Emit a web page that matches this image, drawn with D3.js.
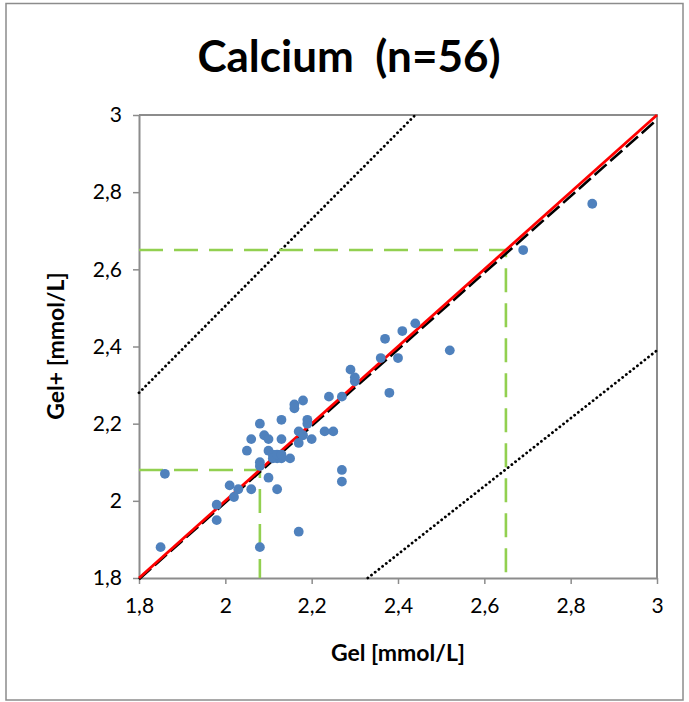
<!DOCTYPE html>
<html>
<head>
<meta charset="utf-8">
<script src="https://cdn.jsdelivr.net/npm/d3@7"></script>
<style>
  html, body { margin: 0; padding: 0; background: #fff; }
  svg { display: block; }
  text { font-family: Lato, "Open Sans", sans-serif; fill: #000; }
</style>
</head>
<body>
<svg id="chart" width="689" height="702"></svg>
<script>
// Measurements: Gel (x) vs Gel+ (y), calcium in mmol/L
const gel = [
  2.30, 2.24, 2.27, 2.16, 2.16, 2.18, 2.08, 2.13, 2.19, 2.19,
  2.06, 2.09, 2.10, 2.13, 2.17, 2.18, 2.20, 2.17, 2.23, 2.25,
  2.05, 2.10, 2.11, 2.12, 2.13, 2.15, 2.11, 2.08, 2.08, 1.86,
  2.10, 2.27, 2.27, 2.01, 2.03, 2.02, 2.06, 2.12, 1.98, 1.98,
  2.17, 1.85, 2.08, 2.85, 2.69, 2.37, 2.41, 2.44, 2.36, 2.40,
  2.52, 2.38, 2.29, 2.30, 2.12, 2.13
];
const gelPlus = [
  2.31, 2.27, 2.27, 2.25, 2.24, 2.26, 2.20, 2.21, 2.21, 2.20,
  2.16, 2.17, 2.16, 2.16, 2.18, 2.17, 2.16, 2.15, 2.18, 2.18,
  2.13, 2.13, 2.12, 2.11, 2.11, 2.11, 2.11, 2.10, 2.09, 2.07,
  2.06, 2.08, 2.05, 2.04, 2.03, 2.01, 2.03, 2.03, 1.99, 1.95,
  1.92, 1.88, 1.88, 2.77, 2.65, 2.42, 2.44, 2.46, 2.37, 2.37,
  2.39, 2.28, 2.34, 2.32, 2.12, 2.12
];

// Reference lines (endpoints in data units)
const identityLine   = [[1.8, 1.8], [3.0, 3.0]];
const regressionLine = [[1.8, 1.797], [3.0, 2.988]];
const upperLimitLine = [[1.8, 2.28], [2.44, 3.0]];
const lowerLimitLine = [[2.33, 1.8], [3.0, 2.39]];
const refLow = 2.08;
const refHigh = 2.65;

const xDomain = [1.8, 3.0];
const yDomain = [1.8, 3.0];
const tickValues = [1.8, 2.0, 2.2, 2.4, 2.6, 2.8, 3.0];

const titleText = "Calcium  (n=56)";
const xTitle = "Gel [mmol/L]";
const yTitle = "Gel+ [mmol/L]";

const plot = { left: 139, right: 657, top: 115, bottom: 578 };
const svg = d3.select("#chart");

// Outer frame
svg.append("rect")
  .attr("x", 6).attr("y", 3.5)
  .attr("width", 677).attr("height", 696.5)
  .attr("fill", "#fff").attr("stroke", "#8c8c8c").attr("stroke-width", 1.5);

const x = d3.scaleLinear().domain(xDomain).range([plot.left, plot.right]);
const y = d3.scaleLinear().domain(yDomain).range([plot.bottom, plot.top]);
const fmt = d => String(+d.toFixed(1)).replace(".", ",");

// Plot frame (top and right)
svg.append("path")
  .attr("d", `M${plot.left},${plot.top}H${plot.right}V${plot.bottom}`)
  .attr("fill", "none").attr("stroke", "#8c8c8c").attr("stroke-width", 2);

const axisColor = "#8c8c8c";
const xAxis = svg.append("g")
  .attr("transform", `translate(0,${plot.bottom})`)
  .call(d3.axisBottom(x).tickValues(tickValues).tickFormat(fmt).tickSize(6).tickSizeOuter(0).tickPadding(14));
const yAxis = svg.append("g")
  .attr("transform", `translate(${plot.left},0)`)
  .call(d3.axisLeft(y).tickValues(tickValues).tickFormat(fmt).tickSize(6).tickSizeOuter(0).tickPadding(11));
[xAxis, yAxis].forEach(g => {
  g.select(".domain").attr("stroke", axisColor).attr("stroke-width", 2);
  g.selectAll(".tick line").attr("stroke", axisColor).attr("stroke-width", 1.5);
  g.selectAll(".tick text").style("font-family", "Lato, sans-serif").style("font-size", "21px").attr("fill", "#000");
});

const line = d3.line().x(d => x(d[0])).y(d => y(d[1]));
const layer = svg.append("g");

// Limit lines (dotted)
[upperLimitLine, lowerLimitLine].forEach(pts => {
  layer.append("path").attr("d", line(pts))
    .attr("fill", "none").attr("stroke", "#000").attr("stroke-width", 2.8)
    .attr("stroke-linecap", "round").attr("stroke-dasharray", "0.1 4.6");
});

// Reference interval (green dashed)
const green = "#92d050";
[refLow, refHigh].forEach(v => {
  layer.append("path")
    .attr("d", line([[xDomain[0], v], [v, v], [v, yDomain[0]]]))
    .attr("fill", "none").attr("stroke", green).attr("stroke-width", 2.6)
    .attr("stroke-dasharray", "24 11");
});

// Regression (black dashed) and identity (red)
layer.append("path").attr("d", line(regressionLine))
  .attr("fill", "none").attr("stroke", "#000").attr("stroke-width", 2.6)
  .attr("stroke-dasharray", "16 5");
layer.append("path").attr("d", line(identityLine))
  .attr("fill", "none").attr("stroke", "#ff0000").attr("stroke-width", 2.8);

// Data points
svg.append("g").selectAll("circle")
  .data(gel.map((g, i) => [g, gelPlus[i]]))
  .join("circle")
  .attr("cx", d => x(d[0])).attr("cy", d => y(d[1]))
  .attr("r", 4.9).attr("fill", "#4f81bd");

// Titles
svg.append("text").attr("x", 349).attr("y", 72)
  .attr("text-anchor", "middle").style("font-size", "44px").style("font-weight", 700)
  .attr("xml:space", "preserve").text(titleText);
svg.append("text").attr("x", 398).attr("y", 661)
  .attr("text-anchor", "middle").style("font-size", "23px").style("font-weight", 700)
  .text(xTitle);
svg.append("text").attr("transform", "translate(64,346) rotate(-90)")
  .attr("text-anchor", "middle").style("font-size", "23px").style("font-weight", 700)
  .text(yTitle);
</script>
</body>
</html>
